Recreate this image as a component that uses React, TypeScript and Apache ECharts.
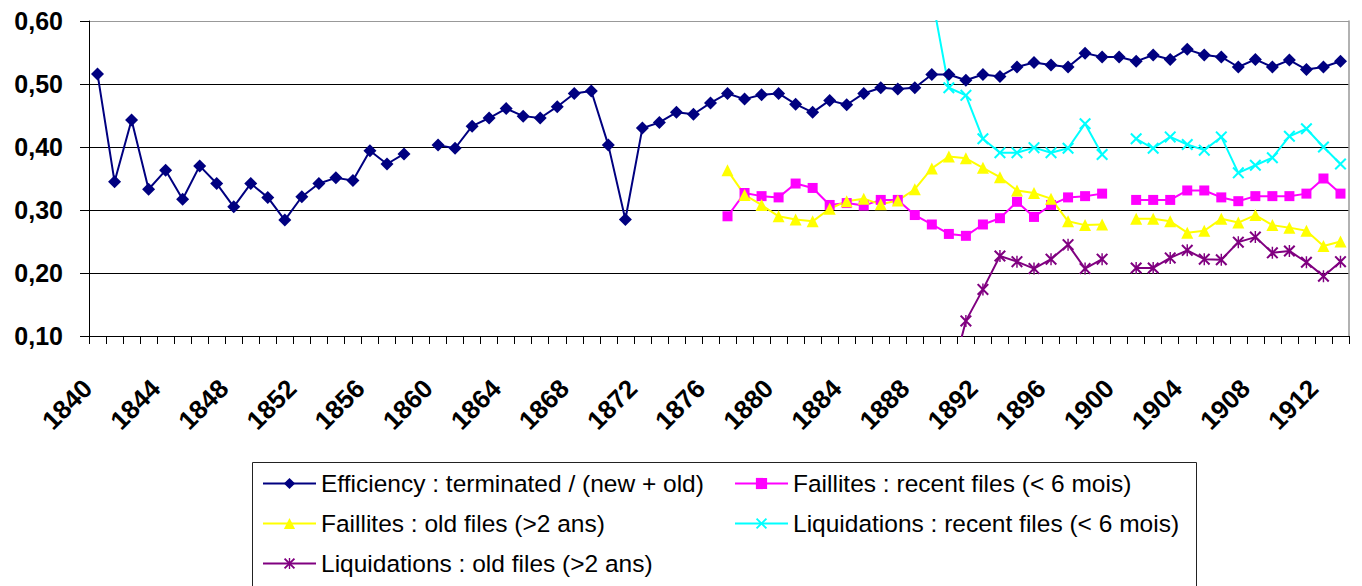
import React, { useEffect, useRef } from "react";
import * as echarts from "echarts";

const years = [
  "1840","1841","1842","1843","1844","1845","1846","1847","1848","1849",
  "1850","1851","1852","1853","1854","1855","1856","1857","1858","1859",
  "1860","1861","1862","1863","1864","1865","1866","1867","1868","1869",
  "1870","1871","1872","1873","1874","1875","1876","1877","1878","1879",
  "1880","1881","1882","1883","1884","1885","1886","1887","1888","1889",
  "1890","1891","1892","1893","1894","1895","1896","1897","1898","1899",
  "1900","1901","1902","1903","1904","1905","1906","1907","1908","1909",
  "1910","1911","1912","1913",
];

// Efficiency : terminated / (new + old), from 1840
const efficiency = [
  0.516, 0.345, 0.443, 0.333, 0.363, 0.317, 0.370, 0.342, 0.305, 0.342,
  0.320, 0.284, 0.321, 0.342, 0.351, 0.347, 0.394, 0.373, 0.389, null,
  0.403, 0.398, 0.433, 0.446, 0.461, 0.449, 0.446, 0.464, 0.485, 0.489,
  0.403, 0.285, 0.430, 0.439, 0.455, 0.452, 0.470, 0.485, 0.476, 0.483,
  0.485, 0.468, 0.455, 0.474, 0.467, 0.485, 0.494, 0.492, 0.494, 0.515,
  0.515, 0.506, 0.515, 0.512, 0.527, 0.534, 0.530, 0.527, 0.549, 0.543,
  0.543, 0.536, 0.546, 0.539, 0.555, 0.546, 0.543, 0.527, 0.539, 0.527,
  0.538, 0.523, 0.527, 0.536,
];

// Faillites : recent files, from 1877
const faillitesRecentStart = 1877;
const faillitesRecent = [
  0.290, 0.327, 0.322, 0.320, 0.342, 0.335, 0.308, 0.311, 0.307, 0.316,
  0.316, 0.292, 0.277, 0.262, 0.259, 0.277, 0.287, 0.313, 0.289, 0.308,
  0.320, 0.322, 0.326, null, 0.316, 0.316, 0.316, 0.331, 0.331, 0.320,
  0.314, 0.322, 0.322, 0.322, 0.326, 0.350, 0.326,
];

// Faillites : old files, from 1877
const faillitesOldStart = 1877;
const faillitesOld = [
  0.363, 0.324, 0.308, 0.290, 0.285, 0.282, 0.302, 0.314, 0.318, 0.309,
  0.315, 0.333, 0.366, 0.385, 0.382, 0.367, 0.352, 0.331, 0.327, 0.318,
  0.282, 0.276, 0.277, null, 0.286, 0.286, 0.282, 0.264, 0.267, 0.286,
  0.280, 0.292, 0.276, 0.272, 0.267, 0.243, 0.250,
];

// Liquidations : recent files, from 1889
const liquidationsRecentStart = 1889;
const liquidationsRecent = [
  0.640, 0.494, 0.482, 0.413, 0.391, 0.391, 0.399, 0.391, 0.398, 0.437,
  0.388, null, 0.413, 0.398, 0.416, 0.404, 0.395, 0.416, 0.359, 0.371,
  0.383, 0.417, 0.429, 0.400, 0.373,
];

// Liquidations : old files, from 1890
const liquidationsOldStart = 1890;
const liquidationsOld = [
  0.020, 0.124, 0.174, 0.227, 0.218, 0.207, 0.222, 0.245, 0.207, 0.222,
  null, 0.208, 0.208, 0.224, 0.236, 0.222, 0.221, 0.249, 0.257, 0.232,
  0.235, 0.217, 0.195, 0.218,
];

const seriesNames = [
  "Efficiency : terminated / (new + old)",
  "Faillites : recent files (< 6 mois)",
  "Faillites : old files (>2 ans)",
  "Liquidations : recent files (< 6 mois)",
  "Liquidations : old files (>2 ans)",
];

const yTicks = { min: 0.1, max: 0.6, interval: 0.1 };

const FONT = "'Liberation Sans', Arial, sans-serif";

const X_SYMBOL =
  "path://M0,1.2 L1.2,0 L5,3.8 L8.8,0 L10,1.2 L6.2,5 L10,8.8 L8.8,10 L5,6.2 L1.2,10 L0,8.8 L3.8,5 Z";
const STAR_SYMBOL =
  "path://M0,1.2 L1.2,0 L5,3.8 L8.8,0 L10,1.2 L6.2,5 L10,8.8 L8.8,10 L5,6.2 L1.2,10 L0,8.8 L3.8,5 Z M4.4,0 L5.6,0 L5.6,10 L4.4,10 Z";

function pad(start: number, vals: (number | null)[]) {
  const arr: (number | null)[] = [];
  const first = start - Number(years[0]);
  for (let i = 0; i < first; i++) arr.push(null);
  for (const v of vals) arr.push(v);
  while (arr.length < years.length) arr.push(null);
  return arr;
}

export default function App() {
  const ref = useRef<HTMLDivElement>(null);

  useEffect(() => {
    if (!ref.current) return;
    const chart = echarts.init(ref.current, undefined, { renderer: "svg" });

    const mkLine = (
      name: string,
      data: (number | null)[],
      color: string,
      symbol: string,
      symbolSize: number
    ) => ({
      name,
      type: "line",
      data,
      symbol,
      symbolSize,
      showAllSymbol: true,
      connectNulls: false,
      clip: true,
      lineStyle: { color, width: 2 },
      itemStyle: { color, borderWidth: 0 },
      emphasis: { disabled: true },
    });

    const legendBase = {
      orient: "horizontal",
      padding: 0,
      itemGap: 0,
      itemWidth: 53,
      itemHeight: 14,
      selectedMode: false,
      textStyle: { fontSize: 24.5, fontFamily: FONT, color: "#000", lineHeight: 24 },
    };

    chart.setOption({
      animation: false,
      backgroundColor: "#fff",
      grid: { left: 89, top: 21, right: 13, bottom: 250, containLabel: false },
      legend: [
        { ...legendBase, data: [seriesNames[0]], left: 262, top: 471 },
        { ...legendBase, data: [seriesNames[1]], left: 734, top: 471 },
        { ...legendBase, data: [seriesNames[2]], left: 262, top: 511 },
        { ...legendBase, data: [seriesNames[3]], left: 734, top: 511 },
        { ...legendBase, data: [seriesNames[4]], left: 262, top: 551 },
      ],
      graphic: [
        {
          type: "rect",
          shape: { x: 252.5, y: 462.5, width: 944, height: 200 },
          style: { fill: "none", stroke: "#222", lineWidth: 1 },
          silent: true,
        },
      ],
      xAxis: [
        {
          type: "category",
          data: years,
          boundaryGap: true,
          axisLine: { show: true, lineStyle: { color: "#000", width: 1 } },
          axisTick: { show: true, interval: 0, length: 8, lineStyle: { color: "#000" } },
          axisLabel: {
            interval: 3,
            rotate: 45,
            margin: 38,
            padding: [0, 14, 0, 0],
            fontSize: 26,
            fontWeight: "bold",
            fontFamily: FONT,
            color: "#000",
          },
          splitLine: { show: false },
        },
      ],
      yAxis: [
        {
          type: "value",
          min: yTicks.min,
          max: yTicks.max,
          interval: yTicks.interval,
          axisLine: { show: true, lineStyle: { color: "#000", width: 1 } },
          axisTick: { show: true, length: 9, lineStyle: { color: "#000" } },
          axisLabel: {
            margin: 26,
            fontSize: 25,
            fontWeight: "bold",
            fontFamily: FONT,
            color: "#000",
            formatter: (v: number) => v.toFixed(2).replace(".", ","),
          },
          splitLine: {
            show: true,
            lineStyle: {
              color: ["#000", "#000", "#000", "#000", "#000", "#999"],
              width: 1,
            },
          },
        },
        {
          type: "value",
          position: "right",
          min: yTicks.min,
          max: yTicks.max,
          interval: yTicks.interval,
          axisLine: { show: true, lineStyle: { color: "#999", width: 1.5 } },
          axisTick: { show: false },
          axisLabel: { show: false },
          splitLine: { show: false },
        },
      ],
      series: [
        mkLine(seriesNames[0], efficiency, "#000080", "diamond", 13),
        mkLine(seriesNames[1], pad(faillitesRecentStart, faillitesRecent), "#FF00FF", "rect", 10),
        mkLine(seriesNames[2], pad(faillitesOldStart, faillitesOld), "#FFFF00", "triangle", 12),
        mkLine(seriesNames[3], pad(liquidationsRecentStart, liquidationsRecent), "#00FFFF", X_SYMBOL, 12),
        mkLine(seriesNames[4], pad(liquidationsOldStart, liquidationsOld), "#800080", STAR_SYMBOL, 12),
      ],
    });

    return () => chart.dispose();
  }, []);

  return (
    <div
      ref={ref}
      style={{ position: "absolute", left: 0, top: 0, width: 1362, height: 586 }}
    />
  );
}
